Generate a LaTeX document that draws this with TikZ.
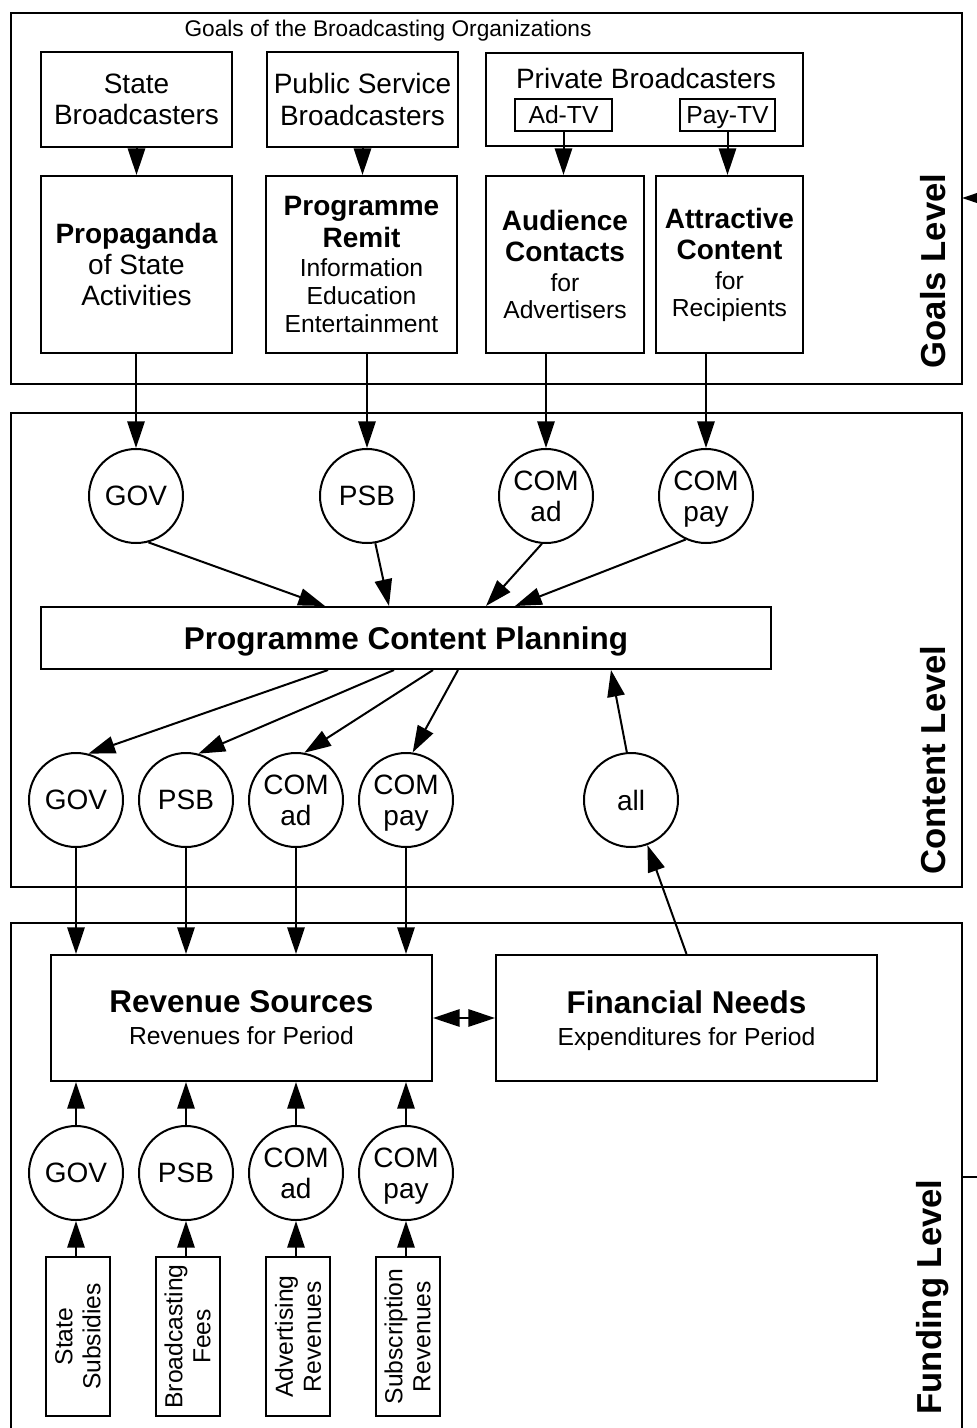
\documentclass[tikz,border=0pt]{standalone}
\usepackage{fontspec}
\setmainfont{Liberation Sans}
\usetikzlibrary{arrows.meta,calc}
\newcommand\fszA{\fontsize{21}{23.3}\selectfont}
\newcommand\fszB{\fontsize{18.5}{21}\selectfont}
\newcommand\fszC{\fontsize{23.6}{26}\selectfont}
\newcommand\fszT{\fontsize{17}{20}\selectfont}
\newcommand\fszL{\fontsize{26}{30}\selectfont\bfseries}
\tikzset{
  bx/.style={draw, line width=1.5pt, inner sep=0pt, align=center, font=\fszA},
  circ/.style={draw, circle, line width=1.5pt, inner sep=0pt, minimum size=70.5pt, align=center, font=\fszA},
  lvl/.style={draw, line width=1.5pt, inner sep=0pt},
  sbx/.style={draw, line width=1.5pt, inner sep=0pt, align=center, font=\fszB, rotate=90, minimum width=119.25pt, minimum height=48pt},
  lvllabel/.style={rotate=90, font=\fszL, inner sep=0pt},
  conn/.style={line width=1.5pt, ->},
}
\begin{document}
\begin{tikzpicture}[x=0.75pt, y=-0.75pt, >={Triangle[length=20pt,width=13pt]}]
\useasboundingbox (0,0) rectangle (976,1428);
% level frames
\node[lvl, minimum width=713.25pt, minimum height=278.25pt] (goals) at (486.5,198.5) {};
\node[lvl, minimum width=713.25pt, minimum height=355.5pt] (content) at (486.5,650) {};
\draw[line width=1.5pt] (11,1440) -- (11,923) -- (962,923) -- (962,1440);
\node[lvllabel] (gl) at (933,271) {Goals Level};
\node[lvllabel] (cl) at (933,760) {Content Level};
\node[lvllabel] (fl) at (933,1297) {Funding Level};
% cut-off feedback connectors on the right edge
\coordinate (fbA) at (962,198);
\coordinate (fbB) at (1000,198);
\coordinate (fbC) at (962,1177);
\coordinate (fbD) at (1000,1177);
\draw[conn] (fbB) -- (fbA);
\draw[line width=1.5pt] (fbC) -- (fbD);
% goals level
\node[font=\fszT, inner sep=0pt] (title) at (388,31) {Goals of the Broadcasting Organizations};
\node[bx, minimum width=143.25pt, minimum height=71.25pt] (state) at (136.5,99.5) {State\\Broadcasters};
\node[bx, minimum width=143.25pt, minimum height=71.25pt] (psbg) at (362.5,99.5) {Public Service\\Broadcasters};
\node[bx, minimum width=237.75pt, minimum height=69.75pt] (priv) at (644.5,99.5) {};
\node[font=\fszA, inner sep=0pt] (privt) at (646,78) {Private Broadcasters};
\node[bx, font=\fszB, text height=13.2pt, text depth=0pt, minimum width=72.75pt, minimum height=24pt] (adtv) at (563.5,115) {Ad-TV};
\node[bx, font=\fszB, text height=13.2pt, text depth=0pt, minimum width=71.25pt, minimum height=24pt] (paytv) at (727.5,115) {Pay-TV};
\node[bx, minimum width=143.25pt, minimum height=132.75pt] (prop) at (136.5,264.5) {\textbf{Propaganda}\\of State\\Activities};
\node[bx, minimum width=143.25pt, minimum height=132.75pt] (remit) at (361.5,264.5) {\textbf{Programme}\\[0.7pt]\textbf{Remit}\\[-1.5pt]{\fszB Information}\\[-2.3pt]{\fszB Education}\\[-2.3pt]{\fszB Entertainment}};
\node[bx, minimum width=118.5pt, minimum height=132.75pt] (aud) at (565,264.5) {\textbf{Audience}\\\textbf{Contacts}\\[-0.8pt]{\fszB for}\\[-3pt]{\fszB Advertisers}};
\node[bx, minimum width=110.25pt, minimum height=132.75pt] (attr) at (729.5,264.5) {\textbf{Attractive}\\\textbf{Content}\\[-0.8pt]{\fszB for}\\[-3pt]{\fszB Recipients}};
\draw[conn] (state) -- (prop);
\draw[conn] (psbg.south) -- (psbg.south |- remit.north);
\draw[conn] (adtv.south) -- (adtv.south |- aud.north);
\draw[conn] (paytv.south) -- (paytv.south |- attr.north);
% content level
\node[circ] (gov1) at (136,496) {GOV};
\node[circ] (psb1) at (367,496) {PSB};
\node[circ] (coma1) at (546,496) {COM\\ad};
\node[circ] (comp1) at (706,496) {COM\\\smash{pay}};
\draw[conn] (prop.south -| gov1) -- (gov1);
\draw[conn] (remit.south -| psb1) -- (psb1);
\draw[conn] (aud.south -| coma1) -- (coma1);
\draw[conn] (attr.south -| comp1) -- (comp1);
\node[bx, font=\fszC\bfseries, text depth=0pt, minimum width=547.5pt, minimum height=46.5pt] (pcp) at (406,638) {Programme Content Planning};
\draw[conn] (gov1.-75) -- ($(pcp.north west)+(285,0)$);
\draw[conn] (psb1.-80) -- ($(pcp.north west)+(349,0)$);
\draw[conn] (coma1.-95) -- ($(pcp.north west)+(446,0)$);
\draw[conn] (comp1.-115) -- ($(pcp.north west)+(475,0)$);
\node[circ] (gov2) at (76,800) {GOV};
\node[circ] (psb2) at (186,800) {PSB};
\node[circ] (coma2) at (296,800) {COM\\ad};
\node[circ] (comp2) at (406,800) {COM\\\smash{pay}};
\node[circ] (all) at (631,800) {all};
\draw[conn] ($(pcp.south west)+(288,0)$) -- (gov2.75);
\draw[conn] ($(pcp.south west)+(354,0)$) -- (psb2.75);
\draw[conn] ($(pcp.south west)+(393,0)$) -- (coma2.80);
\draw[conn] ($(pcp.south west)+(418,0)$) -- (comp2.82);
\draw[conn] (all.95) -- ($(pcp.south west)+(571,0)$);
% funding level
\node[bx, minimum width=285.75pt, minimum height=94.5pt] (rev) at (241.5,1018) {{\fszC\bfseries Revenue Sources}\\[0.7pt]{\fszB Revenues for Period}};
\node[bx, minimum width=285.75pt, minimum height=94.5pt] (fin) at (686.5,1018) {{\fszC\bfseries Financial Needs}\\[0.7pt]{\fszB Ex\smash{p}enditures for Period}};
\draw[conn] (gov2) -- (gov2 |- rev.north);
\draw[conn] (psb2) -- (psb2 |- rev.north);
\draw[conn] (coma2) -- (coma2 |- rev.north);
\draw[conn] (comp2) -- (comp2 |- rev.north);
\draw[conn] (fin.north) -- (all.-70);
\draw[line width=1.5pt, <->] (rev) -- (fin);
\node[circ] (gov3) at (76,1173) {GOV};
\node[circ] (psb3) at (186,1173) {PSB};
\node[circ] (coma3) at (296,1173) {COM\\ad};
\node[circ] (comp3) at (406,1173) {COM\\\smash{pay}};
\draw[conn] (gov3) -- (gov3 |- rev.south);
\draw[conn] (psb3) -- (psb3 |- rev.south);
\draw[conn] (coma3) -- (coma3 |- rev.south);
\draw[conn] (comp3) -- (comp3 |- rev.south);
\node[sbx] (ss) at (78,1336.5) {State\\Subsidies};
\node[sbx] (bf) at (187.5,1336.5) {Broadcasting\\Fees};
\node[sbx] (ar) at (298,1336.5) {Advertising\\Revenues};
\node[sbx] (sr) at (407.5,1336.5) {Subscription\\Revenues};
\draw[conn] (gov3 |- ss.east) -- (gov3);
\draw[conn] (psb3 |- bf.east) -- (psb3);
\draw[conn] (coma3 |- ar.east) -- (coma3);
\draw[conn] (comp3 |- sr.east) -- (comp3);
\end{tikzpicture}
\end{document}
